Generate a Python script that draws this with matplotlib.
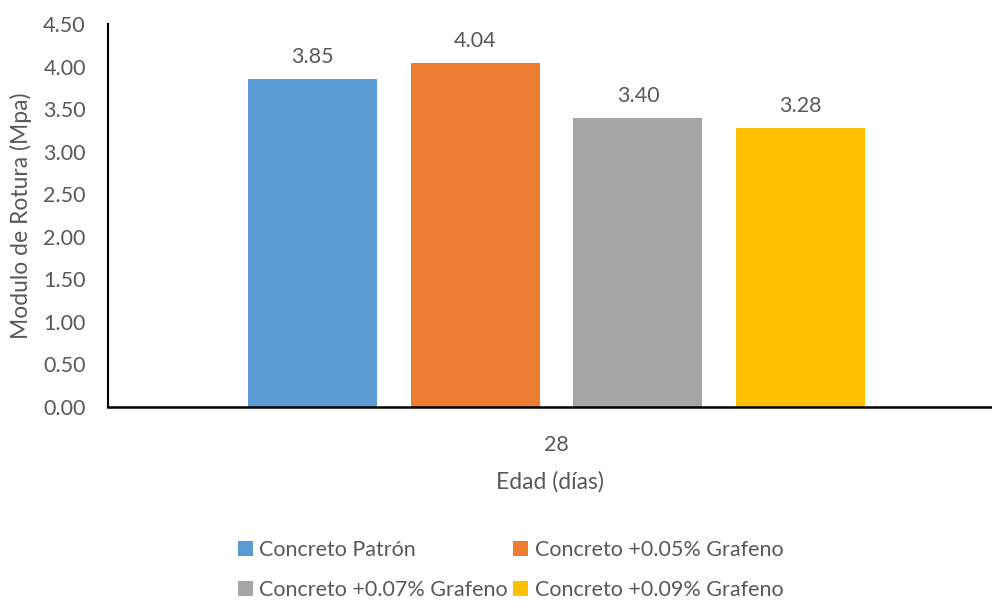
import matplotlib.pyplot as plt
import numpy as np

# Modulo de rotura a los 28 dias
edades = ['28']
series = ['Concreto Patrón', 'Concreto +0.05% Grafeno',
          'Concreto +0.07% Grafeno', 'Concreto +0.09% Grafeno']
valores = [3.85, 4.04, 3.40, 3.28]
colores = ['#5B9BD5', '#ED7D31', '#A5A5A5', '#FFC000']
yticks = [0.0, 0.5, 1.0, 1.5, 2.0, 2.5, 3.0, 3.5, 4.0, 4.5]

TXT = '#595959'
FS = 15.5
plt.rcParams['font.family'] = ['Lato', 'DejaVu Sans']

fig = plt.figure(figsize=(9.92, 6.01), dpi=100)
ax = fig.add_axes([108 / 992, 194 / 601, 884 / 992, 383 / 601])

ancho = 0.793
n = len(series)
for i in range(n):
    xpos = i - (n - 1) / 2
    ax.bar(xpos, valores[i], width=ancho, color=colores[i], label=series[i], zorder=2)
    ax.text(xpos, valores[i] + 0.14, '%.2f' % valores[i], ha='center', va='bottom',
            fontsize=FS, color=TXT)

ax.set_xlim(-2.757, 2.676)
ax.set_ylim(0, 4.5)
ax.set_yticks(yticks)
ax.set_yticklabels(['%.2f' % v for v in yticks])
ax.set_xticks([0])
ax.set_xticklabels(edades)
ax.tick_params(axis='both', length=0, labelsize=FS, colors=TXT)
ax.tick_params(axis='x', pad=20)
ax.tick_params(axis='y', pad=16)

for s in ['top', 'right']:
    ax.spines[s].set_visible(False)
ax.spines['left'].set_linewidth(1.5)
ax.spines['bottom'].set_linewidth(1.8)

ax.set_ylabel('Modulo de Rotura (Mpa)', fontsize=16.5, color=TXT, labelpad=8)
ax.set_xlabel('Edad (días)', fontsize=16.5, color=TXT, labelpad=12)

# leyenda en orden por filas
handles, labels = ax.get_legend_handles_labels()
orden = [0, 2, 1, 3]
leg = fig.legend([handles[k] for k in orden], [labels[k] for k in orden], ncol=2,
                 loc='upper left', bbox_to_anchor=(229 / 992, 1 - 531 / 601),
                 frameon=False, fontsize=FS, handlelength=0.7, handleheight=0.7,
                 handletextpad=0.3, columnspacing=0.25, labelspacing=0.95, borderaxespad=0)
for t in leg.get_texts():
    t.set_color(TXT)

fig.savefig('out.png', dpi=100)
